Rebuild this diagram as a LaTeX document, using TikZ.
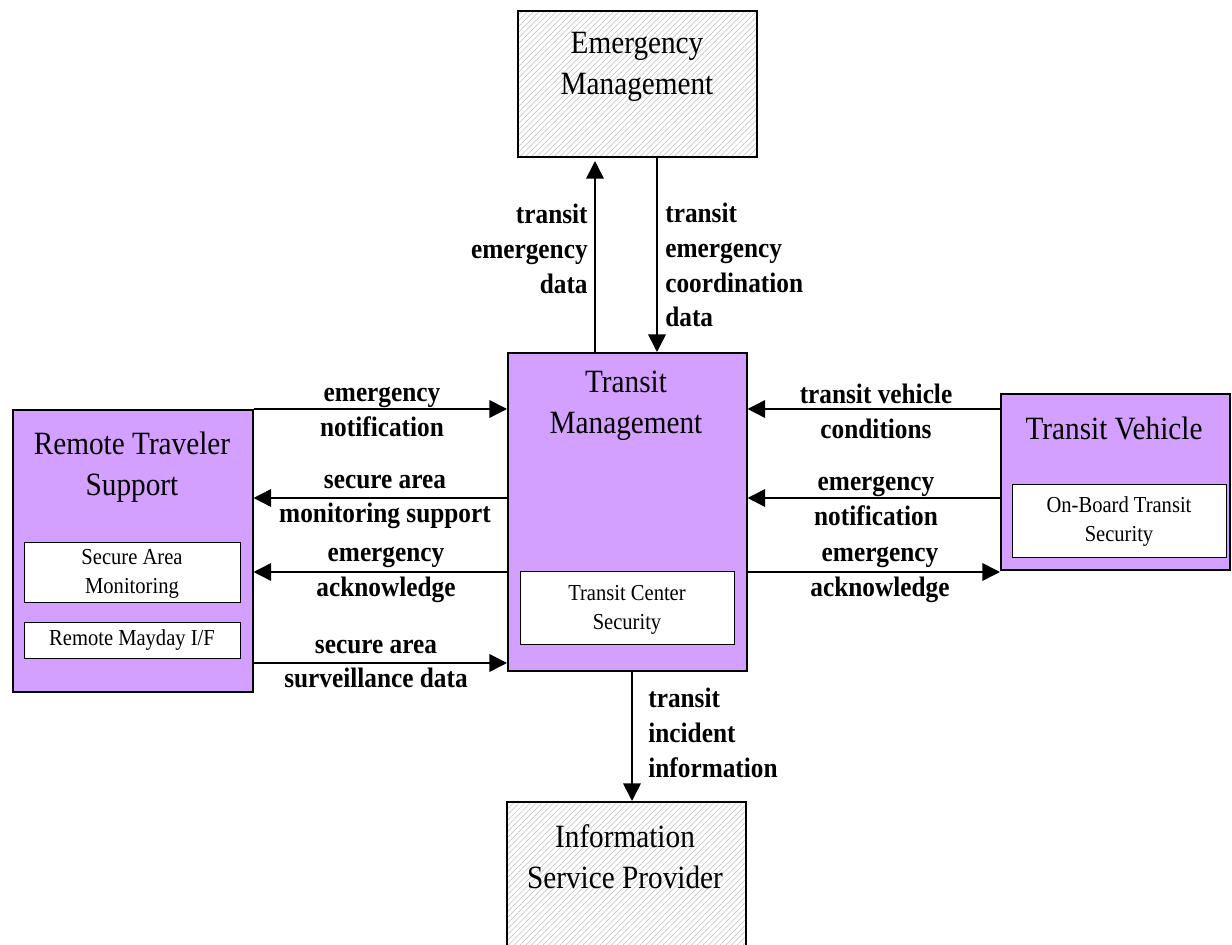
\documentclass[tikz,border=0pt]{standalone}
\usepackage{fontspec}
\setmainfont[FakeStretch=0.9]{Liberation Serif}
\usetikzlibrary{arrows.meta,patterns.meta}
\definecolor{tpurple}{HTML}{D4A0FF}
\definecolor{hgrey}{HTML}{BDBDBD}

\begin{document}
\begin{tikzpicture}[x=0.02cm,y=-0.02cm,
  block/.style={draw,line width=0.9pt,inner sep=0pt,anchor=north west},
  purple block/.style={block,fill=tpurple},
  hatched block/.style={block,pattern={Lines[angle=45,distance=2.3pt,line width=0.3pt]},pattern color=hgrey},
  inner box/.style={draw,line width=0.8pt,fill=white,inner sep=0pt,anchor=north west},
  title/.style={font=\fontsize{18.5}{23.5}\selectfont,align=center,inner sep=0pt},
  small/.style={font=\fontsize{13}{16.5}\selectfont,align=center,inner sep=0pt},
  flowlabel/.style={font=\bfseries\fontsize{16}{19.8}\selectfont,align=center,inner sep=0pt},
  flow/.style={line width=0.9pt,-{Triangle[length=10pt,width=10pt]}}]
  \useasboundingbox (0,0) rectangle (1232,945);
  \clip (0,0) rectangle (1232,945);

  % boxes
  \node[hatched block,minimum width=4.78cm,minimum height=2.92cm] (em) at (518,11) {};
  \node[purple block,minimum width=4.78cm,minimum height=6.36cm] (tm) at (507,352) {};
  \node[purple block,minimum width=4.8cm,minimum height=5.64cm] (rts) at (12,409) {};
  \node[purple block,minimum width=4.58cm,minimum height=3.52cm] (tv) at (1000,393) {};
  \node[hatched block,minimum width=4.78cm,minimum height=3.4cm] (isp) at (506,801) {};

  % inner boxes
  \node[inner box,minimum width=4.28cm,minimum height=1.46cm] (tcs) at (520,571) {};
  \node[inner box,minimum width=4.32cm,minimum height=1.2cm] (sam) at (24,542) {};
  \node[inner box,minimum width=4.32cm,minimum height=0.72cm] (rmi) at (24,622) {};
  \node[inner box,minimum width=4.28cm,minimum height=1.46cm] (obts) at (1012,484) {};

  % titles
  \node[title] (emtitle) at (637,67) {Emergency\\Management};
  \node[title] (tmtitle) at (626,406) {Transit\\Management};
  \node[title] (rtstitle) at (132,467) {Remote Traveler\\Support};
  \node[title] (tvtitle) at (1114,428) {Transit Vehicle};
  \node[title] (isptitle) at (625,857) {Information\\Service Provider};
  \node[small] (tcstext) at (627,610) {Transit Center\\Security};
  \node[small] (samtext) at (132,574) {Secure Area\\Monitoring};
  \node[small] (rmitext) at (132,640) {Remote Mayday I/F};
  \node[small] (obtstext) at (1119,522) {On-Board Transit\\Security};

  % flow rows
  \coordinate (up) at (595,0);
  \coordinate (down) at (657,0);
  \coordinate (out) at (632,0);
  \coordinate (row1) at (0,409);
  \coordinate (row2) at (0,498);
  \coordinate (row3) at (0,572);
  \coordinate (row4) at (0,663);

  % flows
  \draw[flow,shorten >=2pt] (up |- tm.north) -- (up |- em.south);
  \draw[flow] (down |- em.south) -- (down |- tm.north);
  \draw[flow] (out |- tm.south) -- (out |- isp.north);
  \draw[flow] (row1 -| rts.east) -- (row1 -| tm.west);
  \draw[flow] (row2 -| tm.west) -- (row2 -| rts.east);
  \draw[flow] (row3 -| tm.west) -- (row3 -| rts.east);
  \draw[flow] (row4 -| rts.east) -- (row4 -| tm.west);
  \draw[flow] (row1 -| tv.west) -- (row1 -| tm.east);
  \draw[flow] (row2 -| tv.west) -- (row2 -| tm.east);
  \draw[flow] (row3 -| tm.east) -- (row3 -| tv.west);

  % flow labels
  \node[flowlabel,anchor=east,align=right] (ted) at (588,249) {transit\\emergency\\data};
  \node[flowlabel,anchor=west,align=left] (tecd) at (665,265) {transit\\emergency\\coordination\\data};
  \node[flowlabel,anchor=west,align=left] (tii) at (648,733) {transit\\incident\\information};
  \node[flowlabel] (en1) at (382,412) {emergency\\notification};
  \node[flowlabel] (sams) at (385,502) {secure area\\monitoring support};
  \node[flowlabel] (ea1) at (386,575) {emergency\\acknowledge};
  \node[flowlabel] (sasd) at (376,664) {secure area\\surveillance data};
  \node[flowlabel] (tvc) at (876,411) {transit vehicle\\conditions};
  \node[flowlabel] (en2) at (876,501) {emergency\\notification};
  \node[flowlabel] (ea2) at (880,575) {emergency\\acknowledge};
\end{tikzpicture}
\end{document}
